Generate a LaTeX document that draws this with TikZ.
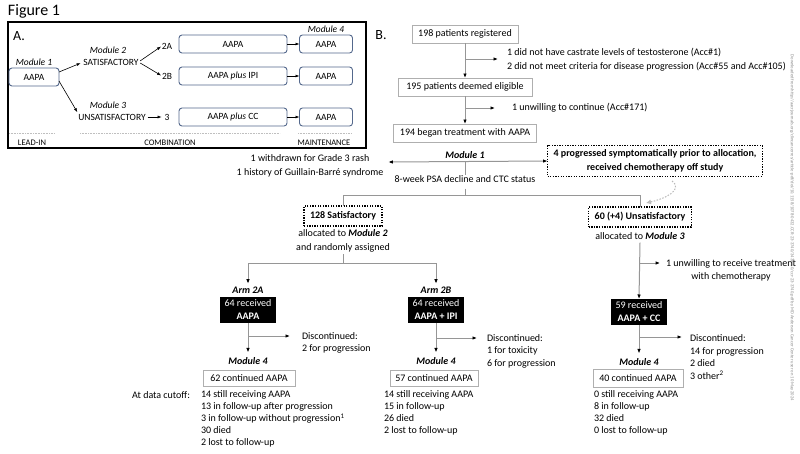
\documentclass[tikz,border=0pt]{standalone}
\usepackage{fontspec}
\setmainfont{Carlito}
\usetikzlibrary{arrows.meta,calc}
\definecolor{aframe}{RGB}{84,104,140}
\definecolor{bline}{RGB}{150,150,150}
\definecolor{bbord}{RGB}{175,175,175}
\begin{document}
\begin{tikzpicture}[x=1pt,y=-1pt,
  every node/.style={inner sep=0pt, outer sep=0pt},
  ftA/.style={font=\fontsize{9.5}{11}\selectfont},
  ftB/.style={font=\fontsize{10}{12}\selectfont},
  abox/.style={draw=aframe, line width=0.9pt, rounded corners=3pt, minimum height=18pt, ftA},
  gbox/.style={draw=bbord, line width=0.9pt, minimum height=18pt, ftB},
  dbox/.style={draw=black, dash pattern=on 1.3pt off 1.3pt, line width=1.3pt, inner xsep=6pt, inner ysep=4pt, align=center, font=\fontsize{10}{14}\selectfont\bfseries},
  blk/.style={fill=black, text=white, inner xsep=5pt, inner ysep=3pt, align=center, font=\fontsize{10}{13}\selectfont},
  conn/.style={draw=bline, line width=1pt},
  tip/.style={-{Latex[length=4.5pt,width=3.5pt,color=black]}},
  aconn/.style={draw=black, line width=0.6pt, -{Latex[length=4pt,width=3pt]}},
  dotsep/.style={draw=gray!50, line width=0.6pt, dash pattern=on 0.8pt off 0.8pt}]
\useasboundingbox[fill=white] (0,0) rectangle (800,453);

% ---------- Title ----------
\node[anchor=west, font=\fontsize{16}{18}\selectfont] (title) at (8,11) {Figure 1};

% ---------- Panel A ----------
\draw[line width=1.8pt] (8,22) rectangle (366,148);
\node[font=\fontsize{14}{16}\selectfont] (lblA) at (19,36) {A.};
\node[ftA] (m1lab) at (34,62) {\textit{Module 1}};
\node[abox, minimum width=50pt] (m1) at (34,77) {AAPA};
\node[ftA] (m2lab) at (108,50) {\textit{Module 2}};
\node[ftA] (sat) at (111,62) {SATISFACTORY};
\node[ftA] (m3lab) at (108,105) {\textit{Module 3}};
\node[ftA] (unsat) at (112,117) {UNSATISFACTORY};
\node[ftA] (l2a) at (167,46) {2A};
\node[ftA] (l2b) at (167,76) {2B};
\node[ftA] (l3) at (167,117) {3};
\node[abox, minimum width=108pt] (a2a) at (233,44) {AAPA};
\node[abox, minimum width=108pt] (a2b) at (233,76) {AAPA \textit{plus} IPI};
\node[abox, minimum width=108pt] (a3) at (233,117) {AAPA \textit{plus} CC};
\node[ftA] (m4lab) at (326,29) {\textit{Module 4}};
\node[abox, minimum width=53pt] (m4a) at (326,44) {AAPA};
\node[abox, minimum width=53pt] (m4b) at (326,76) {AAPA};
\node[abox, minimum width=53pt] (m4c) at (326,117) {AAPA};
\draw[aconn, shorten >=3pt] ([yshift=5pt]m1.east) -- (sat.west);
\draw[aconn, shorten >=2pt] ([yshift=-4pt]m1.east) -- (unsat.north west);
\draw[aconn, shorten <=2pt, shorten >=1pt] (sat.east) -- (l2a.west);
\draw[aconn, shorten <=2pt, shorten >=1pt] (sat.east) -- (l2b.west);
\draw[aconn, shorten <=2pt, shorten >=3pt] (unsat.east) -- (l3.west);
\draw[aconn] (a2a) -- (m4a);
\draw[aconn] (a2b) -- (m4b);
\draw[aconn] (a3) -- (m4c);
\draw[dotsep] (9,133) -- (55,133);
\draw[dotsep] (80,133) -- (280,133);
\draw[dotsep] (298,133) -- (352,133);
\node[font=\fontsize{8.5}{10}\selectfont] (leadin) at (32,143) {LEAD-IN};
\node[font=\fontsize{8.5}{10}\selectfont] (comb) at (170,143) {COMBINATION};
\node[font=\fontsize{8.5}{10}\selectfont] (maint) at (324,143) {MAINTENANCE};

% ---------- Panel B ----------
\node[font=\fontsize{14}{16}\selectfont] (lblB) at (381,35) {B.};
\node[gbox, minimum width=106pt] (r198) at (465,34) {198 patients registered};
\node[gbox, minimum width=134pt] (e195) at (465,87) {195 patients deemed eligible};
\node[gbox, minimum width=143pt] (b194) at (465,133) {194 began treatment with AAPA};
\draw[conn, tip] (r198) -- (e195);
\draw[conn, tip] (e195) -- (b194);
\coordinate (c1) at (465,59);
\node[anchor=west, align=left, font=\fontsize{10}{14}\selectfont] (ex1) at (507,60)
  {1 did not have castrate levels of testosterone (Acc\#1)\\2 did not meet criteria for disease progression (Acc\#55 and Acc\#105)};
\draw[conn, tip] (c1) -- ($(ex1.west |- c1)+(-9,0)$);
\coordinate (c2) at (465,108);
\node[anchor=west, ftB] (ex2) at (512,108) {1 unwilling to continue (Acc\#171)};
\draw[conn, tip] (c2) -- ($(ex2.west |- c2)+(-17,0)$);

\node[ftB] (mod1) at (465,155) {\textbf{\textit{Module 1}}};
\coordinate (j1) at (465,162);
\node[align=center, font=\fontsize{10}{14}\selectfont] (wd) at (310,166)
  {1 withdrawn for Grade 3 rash\\1 history of Guillain-Barré syndrome};
\node[dbox] (prog) at (655,161) {4 progressed symptomatically prior to allocation,\\received chemotherapy off study};
\draw[conn, {Latex[length=4.5pt,width=3.5pt,color=black]}-{Latex[length=4.5pt,width=3.5pt,color=black]}]
  ($(wd.east |- j1)+(5,0)$) -- (prog.west);
\node[ftB] (psa) at (465,179) {8-week PSA decline and CTC status};
\draw[conn] (j1) -- (psa.north);
\coordinate (j2) at (465,195);
\draw[conn] ($(psa.south)+(0,6)$) -- (j2);

\node[dbox, minimum height=20pt] (sat128) at (343,216) {128 Satisfactory};
\node[align=center, font=\fontsize{10}{14}\selectfont] (al2) at (343,241) {allocated to \textbf{\textit{Module 2}}\\and randomly assigned};
\node[dbox, minimum height=20pt] (uns60) at (640,217) {60 (+4) Unsatisfactory};
\node[ftB] (al3) at (640,236) {allocated to \textbf{\textit{Module 3}}};
\draw[conn] (sat128.north) -- (sat128.north |- j2) -- (uns60.north |- j2) -- (uns60.north);
\coordinate (cs) at (672,181);
\coordinate (ce) at (646,203);
\draw[draw=gray!55, line width=1pt, dash pattern=on 1.5pt off 1.5pt, -{Latex[open,length=5pt,width=5pt]}]
  (cs) .. controls (684,190) and (664,199) .. (ce);

% Module 2 arms
\coordinate (j3) at (343,263);
\draw[conn] ($(al2.south)+(0,2)$) -- (j3);
\node[ftB] (arm2a) at (248,290) {\textbf{\textit{Arm 2A}}};
\node[ftB] (arm2b) at (436,290) {\textbf{\textit{Arm 2B}}};
\draw[conn, tip, shorten >=3pt] (j3) -| (arm2a.north);
\draw[conn, tip, shorten >=3pt] (j3) -| (arm2b.north);
\node[blk] (b2a) at (248,310) {64 received\\\textbf{AAPA}};
\node[blk] (b2b) at (436,310) {64 received\\\textbf{AAPA + IPI}};

\node[ftB] (mod4a) at (248,361) {\textbf{\textit{Module 4}}};
\node[ftB] (mod4b) at (436,361) {\textbf{\textit{Module 4}}};
\draw[conn, tip, shorten >=5pt] (b2a.south) -- (mod4a.north);
\draw[conn, tip, shorten >=5pt] (b2b.south) -- (mod4b.north);

\coordinate (d2a) at (248,336);
\node[anchor=west, align=left, ftB] (disc2a) at (302,343) {Discontinued:\\2 for progression};
\draw[conn, tip] (d2a) -- ($(disc2a.west |- d2a)+(-12,0)$);
\coordinate (d2b) at (436,338);
\node[anchor=west, align=left, font=\fontsize{10}{12.5}\selectfont] (disc2b) at (487,351) {Discontinued:\\1 for toxicity\\6 for progression};
\draw[conn, tip] (d2b) -- ($(disc2b.west |- d2b)+(-10,0)$);

\node[gbox, minimum width=92pt, minimum height=16pt] (c62) at (249,378) {62 continued AAPA};
\node[gbox, minimum width=88pt, minimum height=16pt] (c57) at (434,378) {57 continued AAPA};
\node[anchor=east, ftB] (atcut) at (190,395) {At data cutoff:};
\node[anchor=north west, align=left, ftB] (cut2a) at (201,391)
  {14 still receiving AAPA\\13 in follow-up after progression\\3 in follow-up without progression\textsuperscript{1}\\30 died\\2 lost to follow-up};
\node[anchor=north west, align=left, ftB] (cut2b) at (384,391)
  {14 still receiving AAPA\\15 in follow-up\\26 died\\2 lost to follow-up};

% Module 3 arm
\node[blk] (b3) at (639,312) {59 received\\\textbf{AAPA + CC}};
\draw[conn, tip] ($(al3.south)+(0,3)$) -- (b3.north);
\coordinate (c3u) at (639,263);
\node[align=center, font=\fontsize{10}{13}\selectfont] (unw) at (731,270) {1 unwilling to receive treatment\\with chemotherapy};
\draw[conn, tip] (c3u) -- ($(unw.west |- c3u)+(-6,0)$);
\node[ftB] (mod4c) at (639,362) {\textbf{\textit{Module 4}}};
\draw[conn, tip, shorten >=5pt] (b3.south) -- (mod4c.north);
\coordinate (d3) at (639,337);
\node[anchor=west, align=left, font=\fontsize{10}{12.5}\selectfont] (disc3) at (690,357) {Discontinued:\\14 for progression\\2 died\\3 other\textsuperscript{2}};
\draw[conn, tip] (d3) -- ($(disc3.west |- d3)+(-8,0)$);
\node[gbox, minimum width=90pt, minimum height=18pt] (c40) at (638,378) {40 continued AAPA};
\node[anchor=north west, align=left, ftB] (cut3) at (594,391)
  {0 still receiving AAPA\\8 in follow-up\\32 died\\0 lost to follow-up};

% watermark
\node[rotate=-90, text=gray!90, font=\fontsize{4.6}{5}\selectfont] (wm) at (792,228)
  {Downloaded from http://aacrjournals.org/clincancerres/article-pdf/doi/10.1158/1078-0432.CCR-23-3740/3436960/ccr-23-3740.pdf by MD Anderson Cancer Center user on 10 May 2024};
\end{tikzpicture}
\end{document}
